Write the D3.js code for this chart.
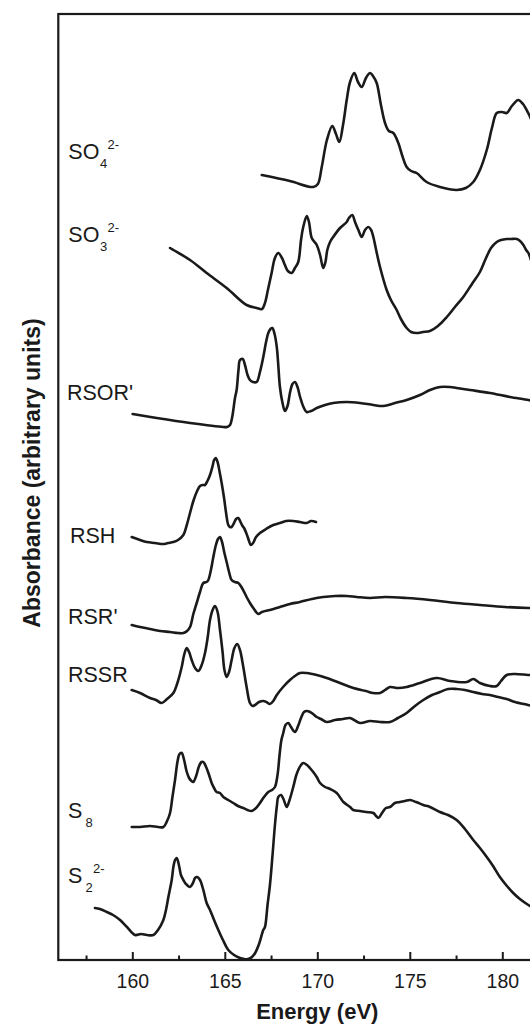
<!DOCTYPE html>
<html>
<head>
<meta charset="utf-8">
<script src="https://cdn.jsdelivr.net/npm/d3@7"></script>
<style>
  html, body { margin: 0; padding: 0; background: #fff; }
  svg { display: block; }
  text { font-family: Arial, "Liberation Sans", Helvetica, sans-serif; fill: #1a1a1a; }
</style>
</head>
<body>
<svg id="chart" width="530" height="1025"></svg>
<script>
// ---------------- data (energy in eV, absorbance in arbitrary units) ----------------
const SO4 = [[167.0,786],[168.52,780],[169.78,774],[170.03,777],[170.24,794],[170.52,821],[170.81,835],[171.01,827],[171.19,819],[171.39,836],[171.59,861],[171.77,879],[172.0,888],[172.2,879],[172.4,874],[172.63,883],[172.85,888],[173.01,885],[173.21,878],[173.44,856],[173.66,838],[173.87,830],[174.11,828],[174.38,818],[174.58,806],[174.83,794],[175.07,790],[175.37,788],[175.91,779],[176.63,774],[177.53,771],[178.03,773],[178.43,779],[178.79,791],[179.16,811],[179.44,833],[179.7,848],[179.98,849],[180.24,848],[180.52,855],[180.86,861],[181.12,857],[181.4,848],[181.6,840]];

const SO3 = [[162.04,713],[162.22,711],[163.12,701],[164.02,688],[165.1,673],[166.18,656],[166.72,653],[167.01,652],[167.17,658],[167.33,671],[167.53,688],[167.71,703],[167.89,708],[168.09,703],[168.25,696],[168.41,690],[168.62,688],[168.79,693],[168.97,699],[169.12,721],[169.24,734],[169.43,745],[169.55,739],[169.7,723],[169.97,716],[170.15,706],[170.32,693],[170.44,699],[170.54,711],[170.69,719],[170.86,724],[171.23,733],[171.59,739],[171.71,743],[171.89,746],[172.04,739],[172.22,731],[172.4,724],[172.58,731],[172.76,734],[172.91,731],[173.03,724],[173.18,711],[173.39,694],[173.75,671],[173.98,661],[174.29,651],[174.52,642],[174.83,633],[175.07,629],[175.37,628],[175.71,629],[176.09,630],[176.52,635],[177.0,644],[177.44,654],[177.89,664],[178.36,677],[178.79,689],[179.12,703],[179.39,713],[179.7,719],[179.93,721],[180.24,722],[180.47,722],[180.78,722],[180.96,720],[181.14,716],[181.29,711],[181.41,708],[181.55,701]];

const RSOR = [[160.02,547],[161.32,543],[163.12,538],[164.92,534],[165.12,534],[165.28,536],[165.39,543],[165.46,551],[165.55,563],[165.64,571],[165.74,591],[165.82,601],[165.97,602],[166.09,596],[166.23,586],[166.36,581],[166.52,579],[166.72,579],[166.9,589],[167.08,604],[167.23,619],[167.35,628],[167.47,632],[167.57,633],[167.69,627],[167.81,614],[167.89,596],[167.98,574],[168.11,559],[168.25,550],[168.39,555],[168.52,568],[168.66,577],[168.79,579],[168.93,574],[169.07,564],[169.23,555],[169.43,549],[169.66,550],[169.97,553],[170.42,556],[170.86,558],[171.59,559],[172.31,558],[173.03,556],[173.57,555],[174.2,558],[174.83,561],[175.55,566],[176.09,571],[176.63,574],[177.17,574],[177.53,573],[178.25,571],[179.33,568],[180.41,564],[181.41,561],[181.6,560]];

const RSH = [[159.97,424],[160.42,421],[160.78,419],[161.23,418],[161.68,417],[161.93,418],[162.22,419],[162.47,421],[162.76,426],[162.93,435],[163.12,448],[163.3,460],[163.48,469],[163.66,475],[163.82,476],[163.93,476],[164.06,480],[164.2,486],[164.34,495],[164.42,501],[164.51,503],[164.61,499],[164.72,489],[164.83,478],[164.96,463],[165.07,448],[165.19,436],[165.28,434],[165.37,434],[165.5,438],[165.61,442],[165.73,443],[165.85,439],[165.96,435],[166.04,433],[166.2,426],[166.31,420],[166.4,416],[166.53,418],[166.69,424],[166.9,428],[167.23,432],[167.62,436],[167.98,438],[168.31,440],[168.7,440],[169.06,439],[169.43,438],[169.66,440],[169.93,439]];

const RSR = [[159.97,336],[160.42,334],[160.96,332],[161.5,330],[162.04,329],[162.47,328],[162.76,328],[162.96,330],[163.12,334],[163.3,347],[163.48,358],[163.66,369],[163.84,378],[164.02,379],[164.11,381],[164.25,391],[164.38,404],[164.52,416],[164.63,422],[164.74,424],[164.85,419],[164.98,408],[165.1,399],[165.23,389],[165.37,381],[165.55,379],[165.73,378],[165.93,373],[166.18,364],[166.36,358],[166.58,352],[166.81,347],[167.01,349],[167.44,351],[167.98,354],[168.52,357],[169.06,359],[169.71,362],[170.32,364],[170.96,365],[171.59,365],[172.13,364],[172.85,363],[173.66,364],[174.83,363],[176.09,361],[177.53,358],[178.79,356],[180.15,354],[181.41,353],[181.6,353]];

const RSSR = [[159.97,271],[160.42,268],[160.96,263],[161.28,261],[161.59,258],[161.88,262],[162.22,268],[162.42,277],[162.67,294],[162.8,306],[162.94,313],[163.07,309],[163.21,301],[163.39,293],[163.57,290],[163.75,296],[163.93,308],[164.07,323],[164.2,341],[164.34,351],[164.47,355],[164.61,349],[164.74,331],[164.88,309],[164.98,291],[165.1,284],[165.23,289],[165.37,301],[165.52,313],[165.67,317],[165.82,311],[166.0,294],[166.17,275],[166.36,258],[166.5,255],[166.63,256],[166.85,259],[167.08,260],[167.25,259],[167.44,257],[167.62,260],[167.81,266],[168.15,274],[168.52,281],[168.79,285],[169.06,288],[169.43,288],[169.97,286],[170.51,283],[171.23,278],[171.95,273],[172.63,270],[173.01,268],[173.39,268],[173.66,271],[173.93,274],[174.36,273],[174.83,274],[175.55,278],[176.45,283],[177.17,280],[178.08,279],[178.43,282],[178.79,278],[179.33,275],[179.7,275],[179.93,280],[180.24,286],[180.69,287],[181.39,286],[181.6,286]];

const S8 = [[159.97,134],[160.42,134],[160.96,135],[161.39,134],[161.68,134],[161.88,140],[162.04,148],[162.17,164],[162.31,181],[162.44,199],[162.55,207],[162.67,208],[162.8,201],[162.93,190],[163.07,183],[163.2,180],[163.3,179],[163.45,185],[163.61,195],[163.74,199],[163.84,199],[163.99,194],[164.15,186],[164.29,178],[164.42,173],[164.56,169],[164.74,168],[164.92,164],[165.19,161],[165.46,158],[165.71,155],[166.0,153],[166.23,151],[166.45,150],[166.69,153],[166.9,158],[167.12,164],[167.35,169],[167.55,171],[167.71,174],[167.85,186],[167.96,206],[168.06,221],[168.16,228],[168.28,236],[168.43,238],[168.58,234],[168.79,229],[168.96,235],[169.12,243],[169.28,249],[169.43,250],[169.61,249],[169.77,247],[169.97,244],[170.2,242],[170.51,239],[170.96,241],[171.39,242],[171.77,243],[172.31,238],[172.85,240],[173.39,239],[173.93,239],[174.36,243],[174.83,248],[175.28,255],[175.73,261],[176.2,266],[176.63,269],[177.07,272],[177.53,272],[177.98,271],[178.43,269],[178.9,267],[179.33,266],[179.77,264],[180.24,262],[180.69,259],[181.39,256],[181.6,255]];

const S2 = [[157.98,53],[158.25,52],[158.62,49],[158.96,46],[159.34,41],[159.71,34],[160.15,26],[160.47,27],[160.79,26],[161.14,26],[161.39,31],[161.68,41],[161.82,51],[161.95,64],[162.13,81],[162.22,94],[162.31,101],[162.4,103],[162.53,95],[162.63,86],[162.76,81],[162.9,77],[163.12,74],[163.28,78],[163.39,83],[163.51,84],[163.66,81],[163.84,71],[164.02,58],[164.2,51],[164.42,41],[164.65,31],[164.9,21],[165.19,11],[165.5,6],[165.82,3],[166.04,2],[166.27,2],[166.47,4],[166.64,8],[166.85,17],[167.08,31],[167.17,34],[167.31,56],[167.44,76],[167.58,106],[167.71,136],[167.82,156],[167.89,164],[168.04,166],[168.17,162],[168.35,154],[168.5,161],[168.7,174],[168.85,185],[168.97,191],[169.12,196],[169.24,198],[169.44,196],[169.6,193],[169.78,189],[169.97,184],[170.15,178],[170.42,174],[170.69,172],[171.05,168],[171.41,159],[171.77,154],[171.95,151],[172.31,150],[172.63,149],[173.03,148],[173.18,145],[173.3,143],[173.5,148],[173.71,153],[173.93,154],[174.2,158],[174.47,159],[174.74,160],[175.01,161],[175.34,159],[175.73,156],[176.09,154],[176.63,149],[177.07,146],[177.53,141],[177.98,132],[178.43,121],[178.79,113],[179.16,104],[179.5,95],[179.87,84],[180.25,75],[180.59,68],[180.95,62],[181.41,56],[181.6,54]];

const seriesList = [SO4, SO3, RSOR, RSH, RSR, RSSR, S8, S2];

const majorTicks = [160, 165, 170, 175, 180];
const minorTicks = [157.5, 162.5, 167.5, 172.5, 177.5];
const xTitle = "Energy (eV)";
const yTitle = "Absorbance (arbitrary units)";

// ---------------- layout ----------------
const svg = d3.select("#chart");
const plotLeft = 58.3, plotTop = 14, plotBottom = 960;
const pxPerEV = 18.5;
const xDomain = [156, 186];
const x = d3.scaleLinear().domain(xDomain).range([plotLeft, plotLeft + (xDomain[1] - xDomain[0]) * pxPerEV]);
const y = d3.scaleLinear().domain([1, 947]).range([plotBottom, plotTop]);
const ink = "#1a1a1a";

// curves
const line = d3.line().x(d => x(d[0])).y(d => y(d[1])).curve(d3.curveCatmullRom.alpha(0.5));
svg.append("g").selectAll("path").data(seriesList).join("path")
  .attr("d", line)
  .attr("fill", "none")
  .attr("stroke", ink)
  .attr("stroke-width", 2.6)
  .attr("stroke-linejoin", "round")
  .attr("stroke-linecap", "round");

// frame
svg.append("rect")
  .attr("x", x.range()[0]).attr("y", plotTop)
  .attr("width", x.range()[1] - x.range()[0]).attr("height", plotBottom - plotTop)
  .attr("fill", "none").attr("stroke", ink).attr("stroke-width", 2.2);

// x axis (inward ticks)
const xAxis = d3.axisBottom(x).tickValues(majorTicks).tickSizeInner(-8).tickSizeOuter(0).tickPadding(14).tickFormat(d3.format("d"));
const gx = svg.append("g").attr("transform", `translate(0,${plotBottom})`).call(xAxis);
gx.select(".domain").remove();
gx.selectAll(".tick line").attr("stroke", ink).attr("stroke-width", 2);
gx.selectAll(".tick text").attr("font-size", 19.5).attr("font-family", "Arial, 'Liberation Sans', sans-serif").attr("fill", ink).attr("dy", "0.71em");

const xMinor = d3.axisBottom(x).tickValues(minorTicks).tickSizeInner(-4.5).tickSizeOuter(0).tickFormat("");
const gm = svg.append("g").attr("transform", `translate(0,${plotBottom})`).call(xMinor);
gm.select(".domain").remove();
gm.selectAll(".tick line").attr("stroke", ink).attr("stroke-width", 2);

// axis titles
svg.append("text").attr("x", x(170)).attr("y", 1019).attr("text-anchor", "middle")
  .attr("font-size", 22).attr("font-weight", "bold").text(xTitle);
svg.append("text").attr("transform", "translate(40,473) rotate(-90)").attr("text-anchor", "middle")
  .attr("font-size", 23).attr("font-weight", "bold").text(yTitle);

// curve labels
const labelSize = 21.5, smallSize = 13;
function label(tx, ty, main, sub, sup, subX, supX) {
  svg.append("text").attr("x", tx).attr("y", ty).attr("font-size", labelSize).text(main);
  if (sub) svg.append("text").attr("x", subX).attr("y", ty + 9).attr("font-size", smallSize).text(sub);
  if (sup) svg.append("text").attr("x", supX).attr("y", ty - 10).attr("font-size", smallSize).text(sup);
}
label(68.3, 159.3, "SO", "4", "2-", 100, 107.5);
label(68.3, 241.7, "SO", "3", "2-", 100, 107.5);
label(67, 400, "RSOR'");
label(70, 542.7, "RSH");
label(68, 624, "RSR'");
label(68, 681.7, "RSSR");
label(68, 818, "S", "8", null, 85.5);
label(68, 883.3, "S", "2", "2-", 85.5, 93);
</script>
</body>
</html>
